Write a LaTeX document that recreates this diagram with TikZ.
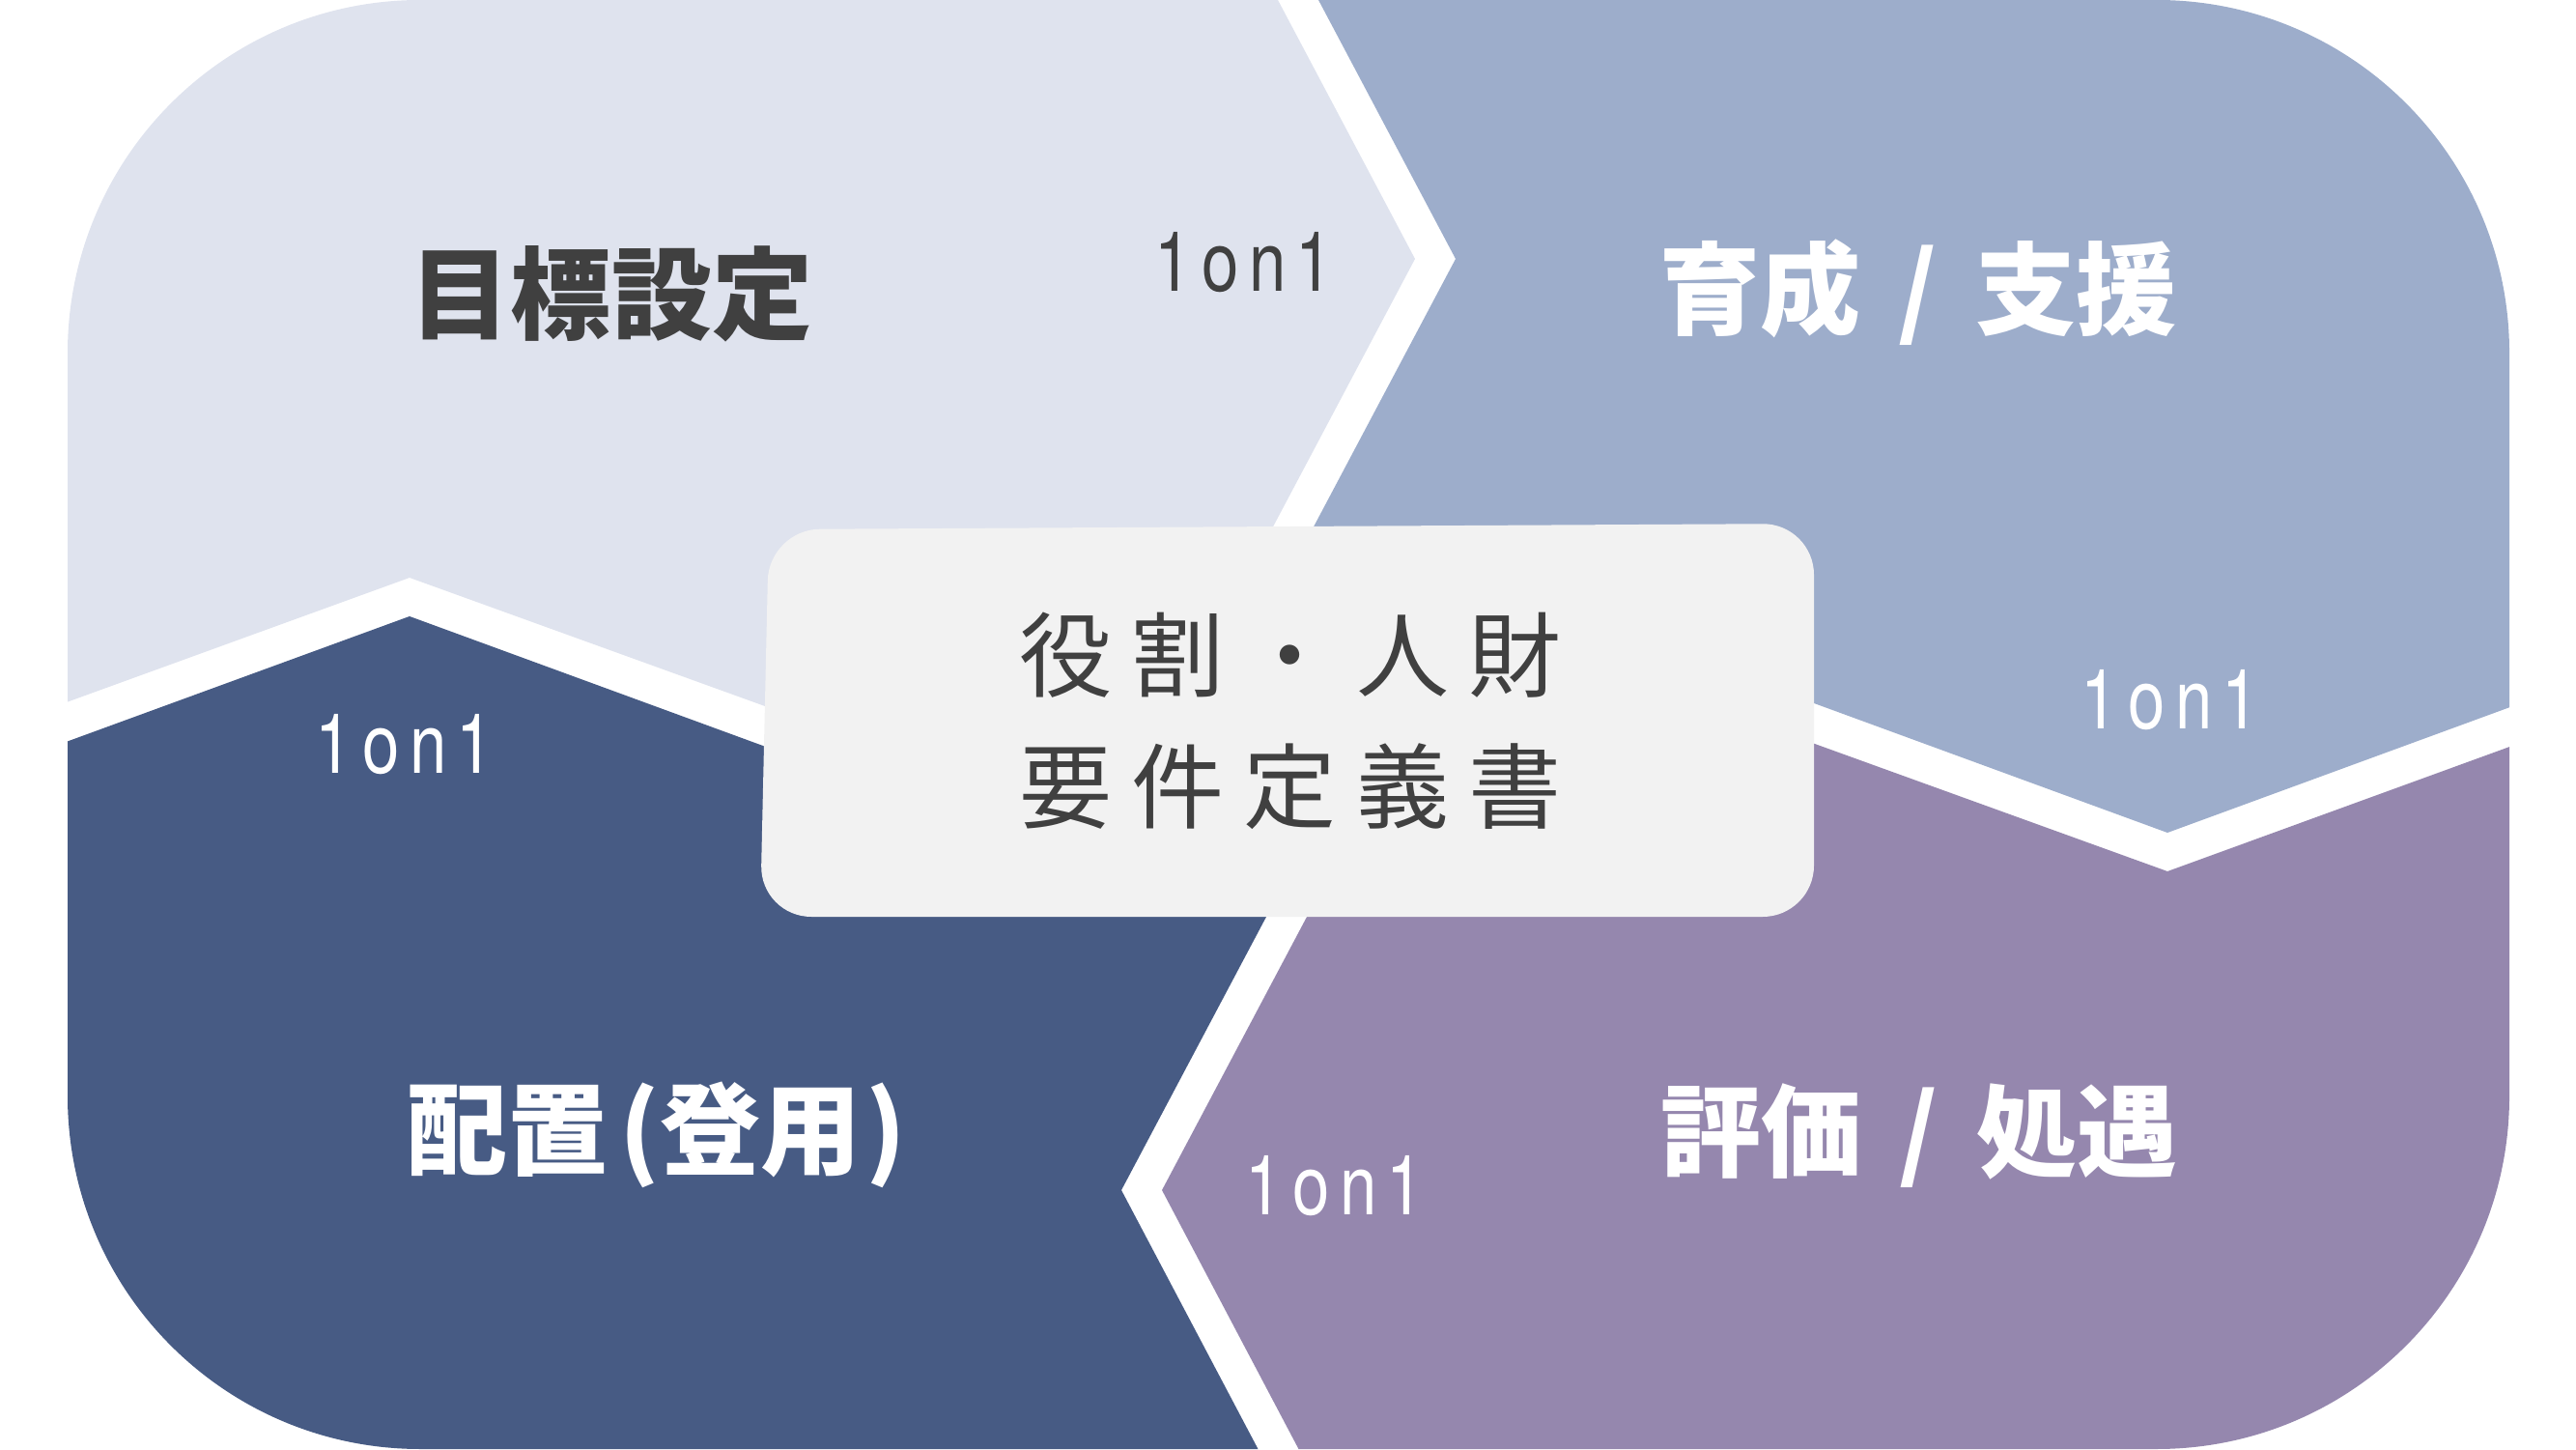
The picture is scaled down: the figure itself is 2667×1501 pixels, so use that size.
\documentclass[tikz,border=0pt]{standalone}
\usepackage{fontspec}
\setmainfont{Noto Sans CJK JP}
\newfontfamily\onefont{TeX Gyre Heros}[FakeStretch=0.8,LetterSpace=12]
\definecolor{jpusuao}{HTML}{DFE3EE}
\definecolor{jpao}{HTML}{9DADCB}
\definecolor{jpkon}{HTML}{475B84}
\definecolor{jpfuji}{HTML}{9587AE}
\definecolor{jphai}{HTML}{F2F2F2}
\definecolor{jpsumi}{HTML}{404040}
\def\mauchu{jpsumi}
\def\maukhung{jphai}
\def\sepslash{\hspace{.38em}/\hspace{.38em}}
\usepackage{tikz}
\usetikzlibrary{calc,positioning}

\begin{document}
\begin{tikzpicture}[x=0.01cm,y=-0.01cm]
		\tikzstyle{titlestyle} = [inner sep=0pt,font=\fontsize{29.6}{31}\selectfont\bfseries]
		\tikzstyle{ononestyle} = [inner sep=0pt,font=\fontsize{24.5}{26}\onefont]
		\tikzstyle{boxtextstyle} = [inner sep=0pt,align=center,text=\mauchu,font=\fontsize{27.3}{38.7}\selectfont\addfontfeature{LetterSpace=21}]
		\useasboundingbox (0,0) rectangle (2667,1501);
		\begin{scope}
			\clip[rounded corners=3.65cm] (70,0) rectangle (2598,1500);
			\fill[jpusuao] (0,0) -- (1323,0) -- (1465,268) -- (1289,600) -- (1334,750) -- (850,752) -- (424,598) -- (0,752) -- cycle;
			\fill[jpao] (1365,0) -- (2667,0) -- (2667,707) -- (2244,862) -- (1818,706) -- (1334,750) -- (1331,600) -- (1507,268) -- cycle;
			\fill[jpkon] (0,1501) -- (1303,1501) -- (1161,1232) -- (1337,900) -- (1334,750) -- (850,794) -- (424,638) -- (0,793) -- cycle;
			\fill[jpfuji] (2667,1501) -- (1345,1501) -- (1203,1232) -- (1379,900) -- (1334,750) -- (1818,748) -- (2244,902) -- (2667,748) -- cycle;
		\end{scope}
		\fill[\maukhung,rounded corners=.53cm] (787,949) -- (1878,949) -- (1878,542) -- (796,548) -- cycle;
		\node[boxtextstyle] (yakuwari) at (1336,746) {役割・人財\\要件定義書};
		\node[titlestyle,text=\mauchu] (mokuhyo) at (633,304) {目標設定};
		\node[titlestyle,text=white] (ikusei) at (1986,303) {育成\sepslash 支援};
		\node[titlestyle,text=white] (haichi) at (680,1175) {配置\hspace{.12em}(登用\hspace{.05em})};
		\node[titlestyle,text=white] (hyoka) at (1987,1176) {評価\sepslash 処遇};
		\node[ononestyle,text=\mauchu] (ononeA) at (1288,272) {1on1};
		\node[ononestyle,text=white] (ononeB) at (419,771) {1on1};
		\node[ononestyle,text=white] (ononeC) at (2247,725) {1on1};
		\node[ononestyle,text=white] (ononeD) at (1382,1228) {1on1};
\end{tikzpicture}
\end{document}
